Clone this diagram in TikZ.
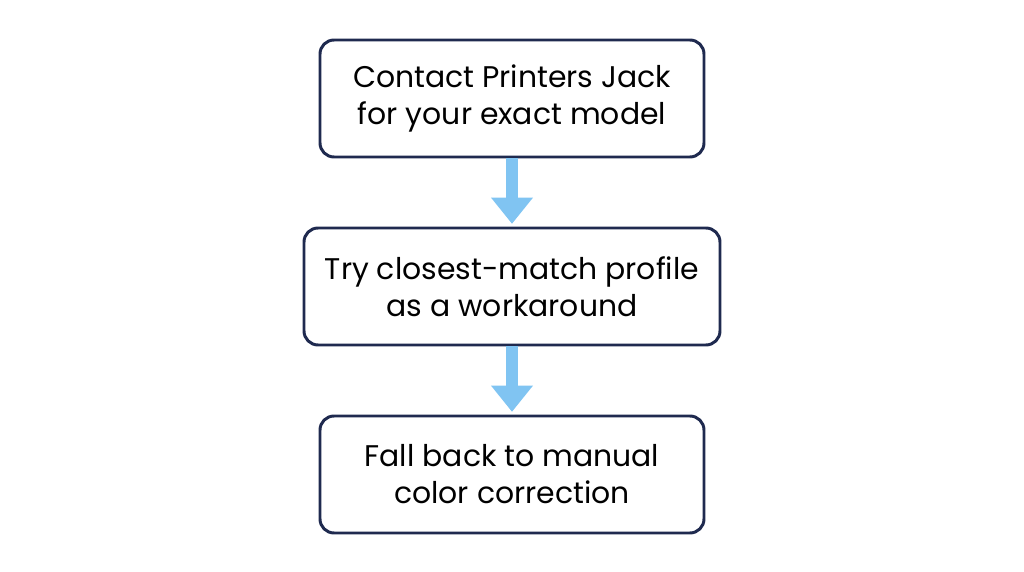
\documentclass[tikz,border=0pt]{standalone}
\usepackage{fontspec}
\setmainfont{Poppins}
\usetikzlibrary{positioning,arrows.meta}
\definecolor{navy}{HTML}{1F2A4F}
\definecolor{skyarrow}{HTML}{80C4F2}

\begin{document}
\begin{tikzpicture}[
  stage/.style={draw=navy, line width=1.7pt, rounded corners=8pt, fill=white,
               minimum height=2.34cm, align=center, font=\fontsize{17}{21}\selectfont},
  flow/.style={-{Triangle[length=15pt, width=23pt]}, skyarrow, line width=6.8pt}
]
  \useasboundingbox (0,0) rectangle (20.48,-11.44);

  % three steps, top to bottom
  \node[stage, minimum width=7.68cm] (contact) at (10.24,-1.97) {Contact Printers Jack\\for your exact model};
  \node[stage, minimum width=8.32cm] (closest) at (10.24,-5.73) {Try closest-match profile\\as a workaround};
  \node[stage, minimum width=7.68cm] (manual) at (10.24,-9.49) {Fall back to manual\\color correction};

  \draw[flow] (contact.south) -- ([yshift=1.5pt]closest.north);
  \draw[flow] (closest.south) -- ([yshift=1.5pt]manual.north);
\end{tikzpicture}
\end{document}
